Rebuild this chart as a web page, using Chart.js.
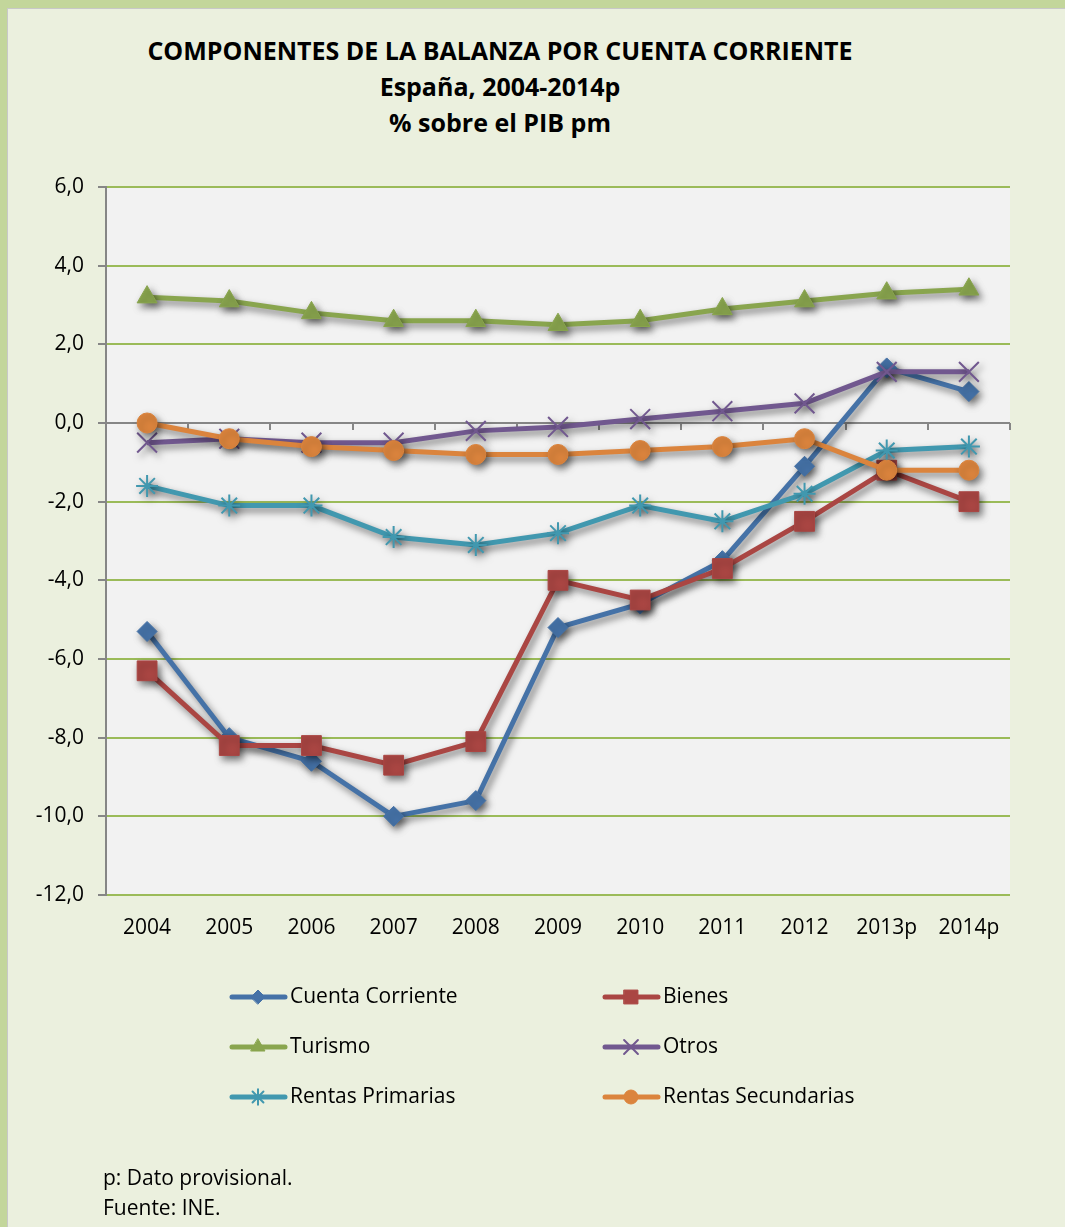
<!DOCTYPE html>
<html>
<head>
<meta charset="utf-8">
<script src="https://cdn.jsdelivr.net/npm/chart.js@4.4.1/dist/chart.umd.min.js"></script>
<style>
  html, body { margin: 0; padding: 0; }
  body { width: 1065px; height: 1227px; background: #c3d69b; position: relative; overflow: hidden; font-family: "Open Sans", sans-serif; }
  #panel { position: absolute; left: 7px; top: 8px; width: 1058px; height: 1219px; background: #ebf0de; border-left: 1px solid #c8c8c8; border-top: 1px solid #c8c8c8; }
  #title { position: absolute; left: 0; width: 1000px; top: 32px; text-align: center; font-weight: bold; font-size: 25px; line-height: 36px; color: #000; }
  #notes { position: absolute; left: 103px; top: 1162px; font-size: 21px; line-height: 30px; color: #000; }
  #wrap { position: absolute; left: 0; top: 0; width: 1065px; height: 1227px; }
</style>
</head>
<body>
<div id="panel"></div>
<div id="title">COMPONENTES DE LA BALANZA POR CUENTA CORRIENTE<br>España, 2004-2014p<br>% sobre el PIB pm</div>
<div id="wrap"><canvas id="balanzaChart" width="1065" height="1227"></canvas></div>
<div id="notes">p: Dato provisional.<br>Fuente: INE.</div>
<script>
    const ctx = document.getElementById('balanzaChart').getContext('2d');

    // Years on the category axis
    const years = ['2004', '2005', '2006', '2007', '2008', '2009', '2010', '2011', '2012', '2013p', '2014p'];

    // % of GDP
    const cuentaCorriente = [-5.3, -8.0, -8.6, -10.0, -9.6, -5.2, -4.6, -3.5, -1.1, 1.4, 0.8];
    const bienes = [-6.3, -8.2, -8.2, -8.7, -8.1, -4.0, -4.5, -3.7, -2.5, -1.2, -2.0];
    const turismo = [3.2, 3.1, 2.8, 2.6, 2.6, 2.5, 2.6, 2.9, 3.1, 3.3, 3.4];
    const otros = [-0.5, -0.4, -0.5, -0.5, -0.2, -0.1, 0.1, 0.3, 0.5, 1.3, 1.3];
    const rentasPrimarias = [-1.6, -2.1, -2.1, -2.9, -3.1, -2.8, -2.1, -2.5, -1.8, -0.7, -0.6];
    const rentasSecundarias = [0.0, -0.4, -0.6, -0.7, -0.8, -0.8, -0.7, -0.6, -0.4, -1.2, -1.2];

    const yMin = -12, yMax = 6, yStep = 2;

    function serie(label, data, color, style, radius, border, order) {
        return {
            label: label,
            data: data,
            borderColor: color,
            backgroundColor: color,
            borderWidth: 5,
            pointStyle: style,
            pointRadius: radius,
            pointBackgroundColor: color,
            pointBorderColor: color,
            pointBorderWidth: border,
            order: order,
            tension: 0
        };
    }

    const datasets = [
        serie('Cuenta Corriente', cuentaCorriente, '#4572a7', 'rectRot', 10, 1, 6),
        serie('Bienes', bienes, '#aa4643', 'rect', 14, 1, 5),
        serie('Turismo', turismo, '#89a54e', 'triangle', 11.5, 1, 4),
        serie('Otros', otros, '#71588f', 'crossRot', 14, 2, 3),
        serie('Rentas Primarias', rentasPrimarias, '#4198af', 'star', 11, 2, 2),
        serie('Rentas Secundarias', rentasSecundarias, '#db843d', 'circle', 10, 1, 1)
    ];

    // plot background
    const plotBackground = {
        id: 'plotBackground',
        beforeDraw(chart) {
            const a = chart.chartArea, c = chart.ctx;
            c.save();
            c.fillStyle = '#f2f2f2';
            c.fillRect(a.left, a.top, a.right - a.left, a.bottom - a.top);
            c.restore();
        }
    };

    // horizontal axis crossing at zero, ticks between categories
    const zeroAxis = {
        id: 'zeroAxis',
        beforeDatasetsDraw(chart) {
            const a = chart.chartArea, c = chart.ctx;
            const y0 = chart.scales.y.getPixelForValue(0);
            const step = (a.right - a.left) / years.length;
            c.save();
            c.strokeStyle = '#868686';
            c.lineWidth = 2;
            c.beginPath();
            c.moveTo(a.left, y0);
            c.lineTo(a.right, y0);
            for (let i = 0; i <= years.length; i++) {
                const px = Math.round(a.left + i * step);
                c.moveTo(px, y0);
                c.lineTo(px, y0 + 7);
            }
            c.stroke();
            c.restore();
        }
    };

    // soft shadow under the series, as in the office chart
    const lineShadow = {
        id: 'lineShadow',
        beforeDatasetsDraw(chart) {
            const c = chart.ctx;
            c.save();
            c.shadowColor = 'rgba(0,0,0,0.5)';
            c.shadowBlur = 7;
            c.shadowOffsetX = 3;
            c.shadowOffsetY = 4;
        },
        afterDatasetsDraw(chart) {
            chart.ctx.restore();
        }
    };

    // two column legend under the plot
    const twoColLegend = {
        id: 'twoColLegend',
        afterDraw(chart) {
            const c = chart.ctx;
            const cols = [230, 603];
            chart.data.datasets.forEach((ds, i) => {
                const x0 = cols[i % 2];
                const yy = 997 + Math.floor(i / 2) * 50;
                c.save();
                c.strokeStyle = ds.borderColor;
                c.lineWidth = 5;
                c.lineCap = 'round';
                c.beginPath();
                c.moveTo(x0 + 2, yy);
                c.lineTo(x0 + 55, yy);
                c.stroke();
                c.fillStyle = ds.borderColor;
                c.strokeStyle = ds.borderColor;
                c.lineWidth = ds.pointBorderWidth;
                Chart.helpers.drawPoint(c, {
                    pointStyle: ds.pointStyle,
                    radius: ds.pointRadius * 0.7,
                    rotation: 0,
                    borderWidth: ds.pointBorderWidth
                }, x0 + 28, yy);
                c.fillStyle = '#000';
                c.font = '21px "Open Sans"';
                c.textAlign = 'left';
                c.textBaseline = 'middle';
                c.fillText(ds.label, x0 + 60, yy);
                c.restore();
            });
        }
    };

    const balanzaChart = new Chart(ctx, {
        type: 'line',
        data: {
            labels: years,
            datasets: datasets
        },
        plugins: [plotBackground, zeroAxis, lineShadow, twoColLegend],
        options: {
            responsive: false,
            animation: false,
            layout: {
                padding: { left: 0, top: 187, right: 55, bottom: 272 }
            },
            plugins: {
                legend: { display: false },
                title: { display: false },
                tooltip: { enabled: false }
            },
            scales: {
                x: {
                    offset: true,
                    grid: { display: false },
                    border: { display: false },
                    ticks: {
                        color: '#000',
                        padding: 12,
                        font: { family: 'Open Sans', size: 21 }
                    },
                    afterFit(scale) { scale.height = 60; }
                },
                y: {
                    min: yMin,
                    max: yMax,
                    grid: {
                        color: (c) => c.tick && c.tick.value === 0 ? 'rgba(0,0,0,0)' : '#9bbb59',
                        lineWidth: 2,
                        tickColor: '#868686',
                        tickLength: 8
                    },
                    border: { display: true, color: '#868686', width: 2 },
                    ticks: {
                        stepSize: yStep,
                        color: '#000',
                        padding: 14,
                        font: { family: 'Open Sans', size: 21 },
                        callback: (v) => v.toFixed(1).replace('.', ',')
                    },
                    afterFit(scale) { scale.width = 106; }
                }
            }
        }
    });
</script>
</body>
</html>
